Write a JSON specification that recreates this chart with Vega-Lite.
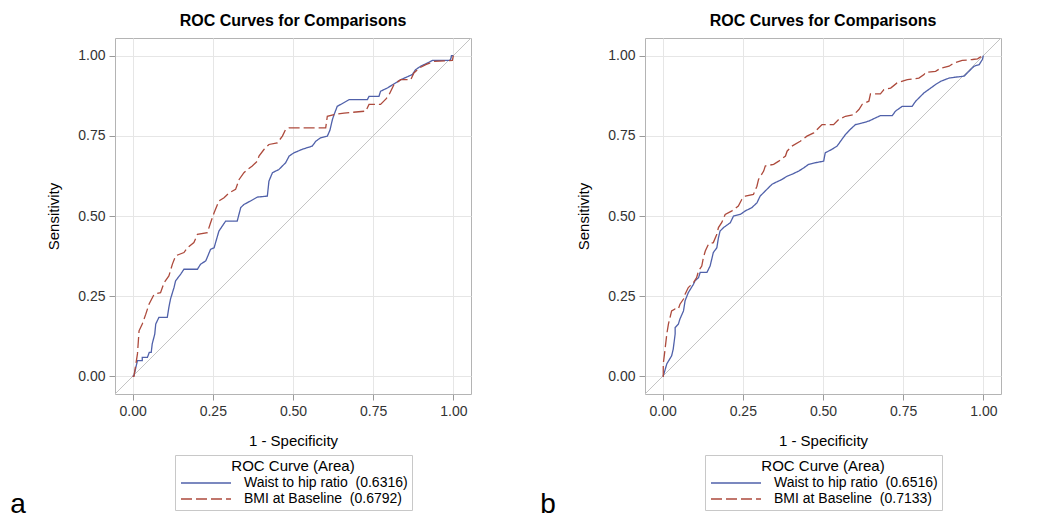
{
  "$schema": "https://vega.github.io/schema/vega-lite/v6.json",
  "padding": {"left": 10, "top": 12, "right": 5, "bottom": 0},
  "background": "white",
  "config": {
    "font": "Liberation Sans",
    "view": {"stroke": "#b4b4b4", "strokeWidth": 1},
    "axis": {"labelFont": "Liberation Sans", "labelFontSize": 14, "labelColor": "#333", "titleFont": "Liberation Sans", "titleFontSize": 15, "titleFontWeight": "normal", "titleColor": "#000", "gridColor": "#e6e6e6", "tickColor": "#999", "domain": false, "tickSize": 6, "labelPadding": 4},
    "axisX": {"titlePadding": 15},
    "axisY": {"titlePadding": 16},
    "legend": {"labelFont": "Liberation Sans", "titleFont": "Liberation Sans"},
    "title": {"font": "Liberation Sans"}
  },
  "datasets": {
    "diag": [{"x": -0.055, "y": -0.055}, {"x": 1.055, "y": 1.055}],
    "rocA": [
      {"s":"W","x":0,"y":0},{"s":"W","x":0.004,"y":0.002},{"s":"W","x":0.015,"y":0.049},{"s":"W","x":0.03,"y":0.049},{"s":"W","x":0.03,"y":0.059},{"s":"W","x":0.046,"y":0.059},{"s":"W","x":0.052,"y":0.075},{"s":"W","x":0.058,"y":0.075},{"s":"W","x":0.061,"y":0.101},{"s":"W","x":0.069,"y":0.132},{"s":"W","x":0.072,"y":0.163},{"s":"W","x":0.082,"y":0.184},{"s":"W","x":0.108,"y":0.184},{"s":"W","x":0.113,"y":0.215},{"s":"W","x":0.118,"y":0.241},{"s":"W","x":0.129,"y":0.277},{"s":"W","x":0.134,"y":0.298},{"s":"W","x":0.15,"y":0.319},{"s":"W","x":0.16,"y":0.334},{"s":"W","x":0.202,"y":0.334},{"s":"W","x":0.212,"y":0.35},{"s":"W","x":0.228,"y":0.36},{"s":"W","x":0.243,"y":0.396},{"s":"W","x":0.254,"y":0.401},{"s":"W","x":0.269,"y":0.453},{"s":"W","x":0.29,"y":0.484},{"s":"W","x":0.326,"y":0.484},{"s":"W","x":0.337,"y":0.526},{"s":"W","x":0.347,"y":0.536},{"s":"W","x":0.368,"y":0.547},{"s":"W","x":0.389,"y":0.559},{"s":"W","x":0.42,"y":0.562},{"s":"W","x":0.425,"y":0.609},{"s":"W","x":0.436,"y":0.635},{"s":"W","x":0.456,"y":0.645},{"s":"W","x":0.477,"y":0.666},{"s":"W","x":0.488,"y":0.687},{"s":"W","x":0.503,"y":0.697},{"s":"W","x":0.529,"y":0.708},{"s":"W","x":0.56,"y":0.718},{"s":"W","x":0.571,"y":0.733},{"s":"W","x":0.586,"y":0.744},{"s":"W","x":0.607,"y":0.749},{"s":"W","x":0.615,"y":0.767},{"s":"W","x":0.623,"y":0.801},{"s":"W","x":0.628,"y":0.816},{"s":"W","x":0.638,"y":0.842},{"s":"W","x":0.649,"y":0.848},{"s":"W","x":0.675,"y":0.863},{"s":"W","x":0.732,"y":0.863},{"s":"W","x":0.737,"y":0.873},{"s":"W","x":0.768,"y":0.873},{"s":"W","x":0.773,"y":0.889},{"s":"W","x":0.794,"y":0.899},{"s":"W","x":0.82,"y":0.915},{"s":"W","x":0.836,"y":0.925},{"s":"W","x":0.872,"y":0.941},{"s":"W","x":0.882,"y":0.956},{"s":"W","x":0.898,"y":0.967},{"s":"W","x":0.919,"y":0.977},{"s":"W","x":0.935,"y":0.985},{"s":"W","x":0.991,"y":0.985},{"s":"W","x":0.994,"y":1.0},{"s":"W","x":1,"y":1},
      {"s":"B","x":0,"y":0},{"s":"B","x":0.004,"y":0},{"s":"B","x":0.015,"y":0.07},{"s":"B","x":0.02,"y":0.142},{"s":"B","x":0.03,"y":0.163},{"s":"B","x":0.041,"y":0.194},{"s":"B","x":0.051,"y":0.225},{"s":"B","x":0.067,"y":0.256},{"s":"B","x":0.087,"y":0.261},{"s":"B","x":0.098,"y":0.292},{"s":"B","x":0.113,"y":0.313},{"s":"B","x":0.124,"y":0.35},{"s":"B","x":0.134,"y":0.376},{"s":"B","x":0.16,"y":0.386},{"s":"B","x":0.171,"y":0.401},{"s":"B","x":0.191,"y":0.417},{"s":"B","x":0.202,"y":0.443},{"s":"B","x":0.233,"y":0.448},{"s":"B","x":0.243,"y":0.479},{"s":"B","x":0.254,"y":0.51},{"s":"B","x":0.269,"y":0.547},{"s":"B","x":0.285,"y":0.557},{"s":"B","x":0.301,"y":0.572},{"s":"B","x":0.321,"y":0.583},{"s":"B","x":0.332,"y":0.614},{"s":"B","x":0.347,"y":0.635},{"s":"B","x":0.358,"y":0.645},{"s":"B","x":0.373,"y":0.656},{"s":"B","x":0.389,"y":0.671},{"s":"B","x":0.394,"y":0.687},{"s":"B","x":0.41,"y":0.708},{"s":"B","x":0.425,"y":0.723},{"s":"B","x":0.451,"y":0.728},{"s":"B","x":0.467,"y":0.749},{"s":"B","x":0.477,"y":0.77},{"s":"B","x":0.488,"y":0.775},{"s":"B","x":0.602,"y":0.775},{"s":"B","x":0.607,"y":0.811},{"s":"B","x":0.628,"y":0.816},{"s":"B","x":0.659,"y":0.821},{"s":"B","x":0.727,"y":0.827},{"s":"B","x":0.737,"y":0.848},{"s":"B","x":0.773,"y":0.848},{"s":"B","x":0.79,"y":0.865},{"s":"B","x":0.8,"y":0.879},{"s":"B","x":0.815,"y":0.91},{"s":"B","x":0.836,"y":0.925},{"s":"B","x":0.867,"y":0.925},{"s":"B","x":0.877,"y":0.946},{"s":"B","x":0.893,"y":0.961},{"s":"B","x":0.914,"y":0.972},{"s":"B","x":0.94,"y":0.982},{"s":"B","x":0.997,"y":0.985},{"s":"B","x":1,"y":1}
    ],
    "rocB": [
      {"s":"W","x":0,"y":0},{"s":"W","x":0.002,"y":0.002},{"s":"W","x":0.007,"y":0.018},{"s":"W","x":0.013,"y":0.039},{"s":"W","x":0.028,"y":0.064},{"s":"W","x":0.033,"y":0.085},{"s":"W","x":0.039,"y":0.132},{"s":"W","x":0.039,"y":0.152},{"s":"W","x":0.049,"y":0.163},{"s":"W","x":0.054,"y":0.179},{"s":"W","x":0.065,"y":0.204},{"s":"W","x":0.07,"y":0.236},{"s":"W","x":0.08,"y":0.261},{"s":"W","x":0.096,"y":0.287},{"s":"W","x":0.101,"y":0.298},{"s":"W","x":0.112,"y":0.308},{"s":"W","x":0.117,"y":0.324},{"s":"W","x":0.138,"y":0.324},{"s":"W","x":0.148,"y":0.344},{"s":"W","x":0.153,"y":0.365},{"s":"W","x":0.158,"y":0.386},{"s":"W","x":0.169,"y":0.401},{"s":"W","x":0.174,"y":0.432},{"s":"W","x":0.179,"y":0.453},{"s":"W","x":0.19,"y":0.464},{"s":"W","x":0.211,"y":0.479},{"s":"W","x":0.221,"y":0.5},{"s":"W","x":0.242,"y":0.505},{"s":"W","x":0.258,"y":0.516},{"s":"W","x":0.278,"y":0.526},{"s":"W","x":0.294,"y":0.541},{"s":"W","x":0.304,"y":0.562},{"s":"W","x":0.325,"y":0.583},{"s":"W","x":0.341,"y":0.599},{"s":"W","x":0.351,"y":0.604},{"s":"W","x":0.372,"y":0.614},{"s":"W","x":0.388,"y":0.624},{"s":"W","x":0.403,"y":0.63},{"s":"W","x":0.424,"y":0.64},{"s":"W","x":0.44,"y":0.65},{"s":"W","x":0.455,"y":0.661},{"s":"W","x":0.476,"y":0.666},{"s":"W","x":0.502,"y":0.671},{"s":"W","x":0.507,"y":0.697},{"s":"W","x":0.528,"y":0.708},{"s":"W","x":0.544,"y":0.718},{"s":"W","x":0.559,"y":0.739},{"s":"W","x":0.57,"y":0.754},{"s":"W","x":0.585,"y":0.77},{"s":"W","x":0.601,"y":0.785},{"s":"W","x":0.622,"y":0.79},{"s":"W","x":0.643,"y":0.796},{"s":"W","x":0.664,"y":0.806},{"s":"W","x":0.679,"y":0.813},{"s":"W","x":0.716,"y":0.813},{"s":"W","x":0.726,"y":0.827},{"s":"W","x":0.747,"y":0.842},{"s":"W","x":0.778,"y":0.842},{"s":"W","x":0.789,"y":0.858},{"s":"W","x":0.804,"y":0.873},{"s":"W","x":0.815,"y":0.884},{"s":"W","x":0.836,"y":0.899},{"s":"W","x":0.851,"y":0.91},{"s":"W","x":0.867,"y":0.92},{"s":"W","x":0.893,"y":0.93},{"s":"W","x":0.914,"y":0.933},{"s":"W","x":0.94,"y":0.936},{"s":"W","x":0.955,"y":0.951},{"s":"W","x":0.971,"y":0.967},{"s":"W","x":0.987,"y":0.972},{"s":"W","x":0.997,"y":0.988},{"s":"W","x":1,"y":1},
      {"s":"B","x":0,"y":0},{"s":"B","x":0.002,"y":0},{"s":"B","x":0.002,"y":0.039},{"s":"B","x":0.007,"y":0.08},{"s":"B","x":0.013,"y":0.132},{"s":"B","x":0.018,"y":0.163},{"s":"B","x":0.028,"y":0.204},{"s":"B","x":0.039,"y":0.21},{"s":"B","x":0.049,"y":0.21},{"s":"B","x":0.054,"y":0.225},{"s":"B","x":0.065,"y":0.241},{"s":"B","x":0.07,"y":0.256},{"s":"B","x":0.08,"y":0.277},{"s":"B","x":0.096,"y":0.292},{"s":"B","x":0.106,"y":0.308},{"s":"B","x":0.112,"y":0.329},{"s":"B","x":0.122,"y":0.344},{"s":"B","x":0.127,"y":0.37},{"s":"B","x":0.133,"y":0.391},{"s":"B","x":0.143,"y":0.412},{"s":"B","x":0.158,"y":0.417},{"s":"B","x":0.169,"y":0.443},{"s":"B","x":0.174,"y":0.464},{"s":"B","x":0.184,"y":0.479},{"s":"B","x":0.195,"y":0.505},{"s":"B","x":0.216,"y":0.516},{"s":"B","x":0.236,"y":0.531},{"s":"B","x":0.247,"y":0.552},{"s":"B","x":0.258,"y":0.562},{"s":"B","x":0.283,"y":0.567},{"s":"B","x":0.294,"y":0.593},{"s":"B","x":0.299,"y":0.614},{"s":"B","x":0.315,"y":0.64},{"s":"B","x":0.32,"y":0.656},{"s":"B","x":0.346,"y":0.661},{"s":"B","x":0.362,"y":0.671},{"s":"B","x":0.383,"y":0.687},{"s":"B","x":0.388,"y":0.702},{"s":"B","x":0.403,"y":0.718},{"s":"B","x":0.429,"y":0.733},{"s":"B","x":0.45,"y":0.749},{"s":"B","x":0.471,"y":0.759},{"s":"B","x":0.487,"y":0.775},{"s":"B","x":0.497,"y":0.785},{"s":"B","x":0.533,"y":0.785},{"s":"B","x":0.549,"y":0.801},{"s":"B","x":0.57,"y":0.811},{"s":"B","x":0.596,"y":0.816},{"s":"B","x":0.612,"y":0.832},{"s":"B","x":0.622,"y":0.848},{"s":"B","x":0.643,"y":0.858},{"s":"B","x":0.648,"y":0.881},{"s":"B","x":0.679,"y":0.881},{"s":"B","x":0.69,"y":0.894},{"s":"B","x":0.711,"y":0.899},{"s":"B","x":0.731,"y":0.915},{"s":"B","x":0.763,"y":0.925},{"s":"B","x":0.799,"y":0.93},{"s":"B","x":0.815,"y":0.941},{"s":"B","x":0.82,"y":0.948},{"s":"B","x":0.851,"y":0.951},{"s":"B","x":0.867,"y":0.961},{"s":"B","x":0.893,"y":0.967},{"s":"B","x":0.908,"y":0.977},{"s":"B","x":0.934,"y":0.985},{"s":"B","x":0.966,"y":0.988},{"s":"B","x":0.982,"y":0.99},{"s":"B","x":0.997,"y":1.0},{"s":"B","x":1,"y":1}
    ]
  },
  "spacing": 68,
  "resolve": {"scale": {"color": "independent", "strokeDash": "independent"}, "legend": {"color": "independent", "strokeDash": "independent"}},
  "hconcat": [
    {
      "title": {"text": "a", "orient": "bottom", "anchor": "start", "fontSize": 28, "fontWeight": "normal", "color": "#000", "offset": -20, "dx": -36},
      "vconcat": [
        {
          "title": {"text": "ROC Curves for Comparisons", "fontSize": 16, "fontWeight": "bold", "color": "#000", "frame": "group", "anchor": "middle", "offset": 9},
          "width": 356, "height": 356,
          "layer": [
            {
              "data": {"name": "diag"},
              "mark": {"type": "line", "color": "#c4c4c4", "strokeWidth": 1, "clip": true},
              "encoding": {"x": {"field": "x", "type": "quantitative", "scale": {"domain": [-0.055, 1.055], "nice": false, "zero": false}}, "y": {"field": "y", "type": "quantitative", "scale": {"domain": [-0.055, 1.055], "nice": false, "zero": false}}}
            },
            {
              "data": {"name": "rocA"},
              "mark": {"type": "line", "strokeWidth": 1.3, "clip": true},
              "encoding": {
                "x": {"field": "x", "type": "quantitative", "scale": {"domain": [-0.055, 1.055], "nice": false, "zero": false}, "axis": {"title": "1 - Specificity", "values": [0, 0.25, 0.5, 0.75, 1], "format": ".2f"}},
                "y": {"field": "y", "type": "quantitative", "scale": {"domain": [-0.055, 1.055], "nice": false, "zero": false}, "axis": {"title": "Sensitivity", "values": [0, 0.25, 0.5, 0.75, 1], "format": ".2f"}},
                "order": {"value": null},
                "color": {"field": "s", "type": "nominal", "scale": {"domain": ["W", "B"], "range": ["#5061aa", "#ad4a3c"]},
                  "legend": {"orient": "none", "legendX": 60, "legendY": 417, "direction": "vertical", "title": "ROC Curve (Area)", "titleFontSize": 15, "titleFontWeight": "normal", "titleColor": "#000", "titleAnchor": "middle", "titleAlign": "center", "titlePadding": 2, "labelFontSize": 14, "labelColor": "#000", "labelOffset": 31, "labelLimit": 0, "rowPadding": 2, "symbolType": "M-5,0H5", "symbolSize": 100, "symbolOffset": 20, "symbolStrokeWidth": 1.5, "padding": 4, "strokeColor": "#c8c8c8",
                    "labelExpr": "datum.label == 'W' ? 'Waist to hip ratio \u00a0(0.6316)' : 'BMI at Baseline \u00a0(0.6792)'"}},
                "strokeDash": {"field": "s", "type": "nominal", "scale": {"domain": ["W", "B"], "range": [[1, 0], [11, 4]]},
                  "legend": {"orient": "none", "legendX": 60, "legendY": 417, "direction": "vertical", "title": "ROC Curve (Area)", "titleFontSize": 15, "titleFontWeight": "normal", "titleColor": "#000", "titleAnchor": "middle", "titleAlign": "center", "titlePadding": 2, "labelFontSize": 14, "labelColor": "#000", "labelOffset": 31, "labelLimit": 0, "rowPadding": 2, "symbolType": "M-5,0H5", "symbolSize": 100, "symbolOffset": 20, "symbolStrokeWidth": 1.5, "padding": 4, "strokeColor": "#c8c8c8",
                    "labelExpr": "datum.label == 'W' ? 'Waist to hip ratio \u00a0(0.6316)' : 'BMI at Baseline \u00a0(0.6792)'"}}
              }
            }
          ]
        }
      ]
    },
    {
      "title": {"text": "b", "orient": "bottom", "anchor": "start", "fontSize": 28, "fontWeight": "normal", "color": "#000", "offset": -20, "dx": -36},
      "vconcat": [
        {
          "title": {"text": "ROC Curves for Comparisons", "fontSize": 16, "fontWeight": "bold", "color": "#000", "frame": "group", "anchor": "middle", "offset": 9},
          "width": 356, "height": 356,
          "layer": [
            {
              "data": {"name": "diag"},
              "mark": {"type": "line", "color": "#c4c4c4", "strokeWidth": 1, "clip": true},
              "encoding": {"x": {"field": "x", "type": "quantitative", "scale": {"domain": [-0.055, 1.055], "nice": false, "zero": false}}, "y": {"field": "y", "type": "quantitative", "scale": {"domain": [-0.055, 1.055], "nice": false, "zero": false}}}
            },
            {
              "data": {"name": "rocB"},
              "mark": {"type": "line", "strokeWidth": 1.3, "clip": true},
              "encoding": {
                "x": {"field": "x", "type": "quantitative", "scale": {"domain": [-0.055, 1.055], "nice": false, "zero": false}, "axis": {"title": "1 - Specificity", "values": [0, 0.25, 0.5, 0.75, 1], "format": ".2f"}},
                "y": {"field": "y", "type": "quantitative", "scale": {"domain": [-0.055, 1.055], "nice": false, "zero": false}, "axis": {"title": "Sensitivity", "values": [0, 0.25, 0.5, 0.75, 1], "format": ".2f"}},
                "order": {"value": null},
                "color": {"field": "s", "type": "nominal", "scale": {"domain": ["W", "B"], "range": ["#5061aa", "#ad4a3c"]},
                  "legend": {"orient": "none", "legendX": 60, "legendY": 417, "direction": "vertical", "title": "ROC Curve (Area)", "titleFontSize": 15, "titleFontWeight": "normal", "titleColor": "#000", "titleAnchor": "middle", "titleAlign": "center", "titlePadding": 2, "labelFontSize": 14, "labelColor": "#000", "labelOffset": 31, "labelLimit": 0, "rowPadding": 2, "symbolType": "M-5,0H5", "symbolSize": 100, "symbolOffset": 20, "symbolStrokeWidth": 1.5, "padding": 4, "strokeColor": "#c8c8c8",
                    "labelExpr": "datum.label == 'W' ? 'Waist to hip ratio \u00a0(0.6516)' : 'BMI at Baseline \u00a0(0.7133)'"}},
                "strokeDash": {"field": "s", "type": "nominal", "scale": {"domain": ["W", "B"], "range": [[1, 0], [11, 4]]},
                  "legend": {"orient": "none", "legendX": 60, "legendY": 417, "direction": "vertical", "title": "ROC Curve (Area)", "titleFontSize": 15, "titleFontWeight": "normal", "titleColor": "#000", "titleAnchor": "middle", "titleAlign": "center", "titlePadding": 2, "labelFontSize": 14, "labelColor": "#000", "labelOffset": 31, "labelLimit": 0, "rowPadding": 2, "symbolType": "M-5,0H5", "symbolSize": 100, "symbolOffset": 20, "symbolStrokeWidth": 1.5, "padding": 4, "strokeColor": "#c8c8c8",
                    "labelExpr": "datum.label == 'W' ? 'Waist to hip ratio \u00a0(0.6516)' : 'BMI at Baseline \u00a0(0.7133)'"}}
              }
            }
          ]
        }
      ]
    }
  ]
}
